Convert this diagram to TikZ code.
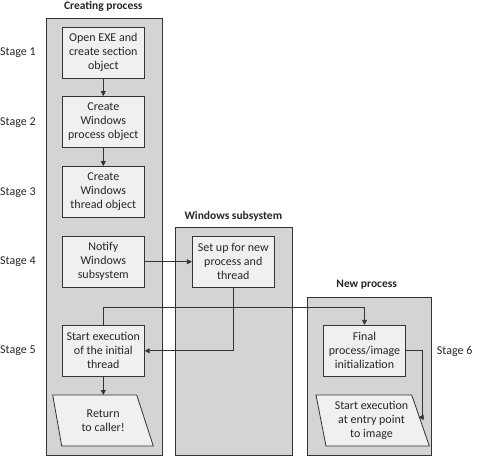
\documentclass[tikz,border=0pt]{standalone}
\usepackage{fontspec}
\setmainfont{Carlito}
\usetikzlibrary{arrows.meta}
\definecolor{linec}{HTML}{333333}
\definecolor{panelc}{HTML}{D4D4D4}
\definecolor{boxc}{HTML}{F0F0F0}
\begin{document}
\begin{tikzpicture}[x=1pt,y=-1pt,
  panel/.style={draw=linec, fill=panelc, line width=0.8pt, anchor=north west, inner sep=0pt},
  boxn/.style={draw=linec, fill=boxc, line width=0.8pt, align=center, inner sep=0pt,
    minimum width=82pt, minimum height=51pt, font=\fontsize{12}{14}\selectfont, text=black!85},
  txt/.style={align=center, inner sep=0pt, font=\fontsize{12}{14}\selectfont, text=black!85},
  stagelbl/.style={anchor=west, inner sep=0pt, font=\fontsize{12}{14}\selectfont, text=black!85},
  ttl/.style={anchor=base, inner sep=0pt, font=\bfseries\fontsize{11.5}{14}\selectfont, text=black!85},
  conn/.style={draw=linec, line width=0.8pt},
  arr/.style={conn, -{Triangle[length=5pt,width=5pt]}}]
\useasboundingbox (0,0) rectangle (478,456);
% panels
\node[panel, minimum width=116pt, minimum height=436.7pt] (cp) at (45.7,18.3) {};
\node[panel, minimum width=116.7pt, minimum height=227.7pt] (ws) at (175,227.3) {};
\node[panel, minimum width=124pt, minimum height=158.3pt] (np) at (306.7,296.7) {};
% titles
\node[ttl] (tcp) at (103.3,9) {Creating process};
\node[ttl] (tws) at (233.3,219) {Windows subsystem};
\node[ttl] (tnp) at (366.7,287.5) {New process};
% stage labels
\node[stagelbl] (s1) at (0,53) {Stage 1};
\node[stagelbl] (s2) at (0,123) {Stage 2};
\node[stagelbl] (s3) at (0,192.5) {Stage 3};
\node[stagelbl] (s4) at (0,262) {Stage 4};
\node[stagelbl] (s5) at (0,350.5) {Stage 5};
\node[stagelbl] (s6) at (436.7,351.5) {Stage 6};
% boxes
\node[boxn] (b1) at (103.3,52.8) {Open EXE and\\create section\\object};
\node[boxn] (b2) at (103.3,122) {Create\\Windows\\process object};
\node[boxn] (b3) at (103.3,192) {Create\\Windows\\thread object};
\node[boxn] (b4) at (103.3,261.7) {Notify\\Windows\\subsystem};
\node[boxn] (b5) at (103.3,350.8) {Start execution\\of the initial\\thread};
\node[boxn] (su) at (233.3,261.7) {Set up for new\\process and\\thread};
\node[boxn] (fi) at (364.5,350.8) {Final\\process/image\\initialization};
% parallelograms
\draw[conn, fill=boxc] (52.7,395) -- (136.7,395) -- (153.3,446) -- (61.7,446) -- cycle;
\node[txt] (ret) at (103.2,420.5) {Return\\to caller!};
\coordinate (rettop) at (103.3,395);
\draw[conn, fill=boxc] (316,395) -- (411.7,395) -- (429.3,446) -- (326,446) -- cycle;
\node[txt] (se) at (371.5,420.5) {Start execution\\at entry point\\to image};
\coordinate (seedge) at (418.5,417.3);
% connectors
\draw[arr] (b1.south) -- (b2.north);
\draw[arr] (b2.south) -- (b3.north);
\draw[arr] (b4.east) -- (su.west);
\draw[arr] (su.south) -- (su.south |- b5.east) -- (b5.east);
\coordinate (turn) at (103.3,307.3);
\draw[arr] (b5.north) -- (turn) -| (fi.north);
\draw[arr] (b5.south) -- (rettop);
\coordinate (rt) at (422.7,350.8);
\draw[arr] (fi.east) -- (rt) |- (seedge);
\end{tikzpicture}
\end{document}
